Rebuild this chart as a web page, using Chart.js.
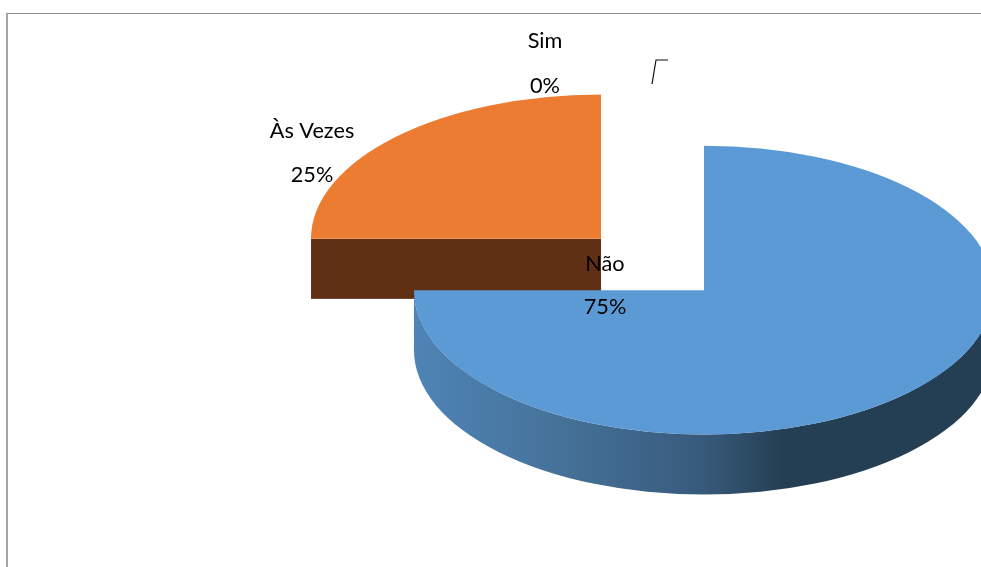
<!DOCTYPE html>
<html>
<head>
<meta charset="utf-8">
<style>
  html, body { margin: 0; background: #fff; overflow: hidden; }
  #wrap { position: relative; width: 981px; height: 567px; overflow: hidden; }
  #frame { position: absolute; left: 6px; top: 13px; width: 1000px; height: 600px; border-left: 2px solid #a6a6a6; border-top: 1px solid #8f8f8f; }
  canvas { position: absolute; left: 0; top: 0; }
</style>
</head>
<body>
<div id="wrap">
  <div id="frame"></div>
  <canvas id="chart" width="981" height="567"></canvas>
</div>
<script src="https://cdn.jsdelivr.net/npm/chart.js@4"></script>
<script>
const categories = ['Sim', 'Não', 'Às Vezes'];
const values = [0, 75, 25];
const colors = ['#a5a5a5', '#5b9ad5', '#eb7c31'];

const tilt = 0.498;    // squash of the pie plane
const depth = 60;      // height of the 3d wall
const explode = 72.8;  // how far slices are pulled out of the middle
const centre = { x: 652.5, y: 264.5 };
const labelPos = [{ x: 545, y: 41, gap: 45 }, { x: 605, y: 264, gap: 43 }, { x: 312, y: 131, gap: 44 }];

// screen position of an exploded slice's tip
function sliceCentre(arc) {
  const mid = (arc.startAngle + arc.endAngle) / 2;
  return {
    x: centre.x + Math.cos(mid) * explode,
    y: centre.y + Math.sin(mid) * explode * tilt
  };
}

const pie3d = {
  id: 'pie3d',
  beforeDatasetsDraw(chart) {
    const ctx = chart.ctx;
    const arcs = chart.getDatasetMeta(0).data;

    // cut face of the orange slice
    const orange = arcs[2], oc = sliceCentre(orange);
    ctx.fillStyle = '#5f3013';
    ctx.fillRect(oc.x - orange.outerRadius, oc.y, orange.outerRadius, depth);

    // round wall of the blue slice
    const blue = arcs[1], bc = sliceCentre(blue), r = blue.outerRadius;
    const g = ctx.createLinearGradient(bc.x - r, 0, bc.x + r, 0);
    g.addColorStop(0, '#4e84b6');
    g.addColorStop(0.26, '#457198');
    g.addColorStop(0.5, '#375a7b');
    g.addColorStop(0.64, '#243e53');
    g.addColorStop(1, '#243e53');
    ctx.fillStyle = g;
    ctx.beginPath();
    ctx.ellipse(bc.x, bc.y, r, r * tilt, 0, 0, Math.PI);
    ctx.ellipse(bc.x, bc.y + depth, r, r * tilt, 0, Math.PI, 0, true);
    ctx.closePath();
    ctx.fill();
  },
  // the slices are drawn here one by one, each squashed and moved to its own spot
  beforeDatasetDraw(chart) {
    const ctx = chart.ctx;
    chart.getDatasetMeta(0).data.forEach(arc => {
      const c = sliceCentre(arc);
      ctx.save();
      ctx.translate(c.x, c.y);
      ctx.scale(1, tilt);
      ctx.translate(-arc.x, -arc.y);
      arc.draw(ctx);
      ctx.restore();
    });
    return false;
  },
  afterDatasetsDraw(chart) {
    const ctx = chart.ctx;

    // leader of the 0% label
    ctx.strokeStyle = '#111';
    ctx.lineWidth = 1.2;
    ctx.beginPath();
    ctx.moveTo(652, 84);
    ctx.lineTo(656, 60);
    ctx.lineTo(668, 60);
    ctx.stroke();

    ctx.fillStyle = '#000';
    ctx.font = '21.7px Lato';
    ctx.textAlign = 'center';
    ctx.textBaseline = 'middle';
    categories.forEach((c, i) => {
      ctx.fillText(c, labelPos[i].x, labelPos[i].y);
      ctx.fillText(values[i] + '%', labelPos[i].x, labelPos[i].y + labelPos[i].gap);
    });
  }
};

new Chart(document.getElementById('chart'), {
  type: 'pie',
  data: {
    labels: categories,
    datasets: [{
      data: values,
      backgroundColor: colors,
      borderWidth: 0
    }]
  },
  options: {
    responsive: false,
    animation: false,
    radius: 290,
    plugins: {
      legend: { display: false },
      tooltip: { enabled: false }
    }
  },
  plugins: [pie3d]
});
</script>
</body>
</html>
